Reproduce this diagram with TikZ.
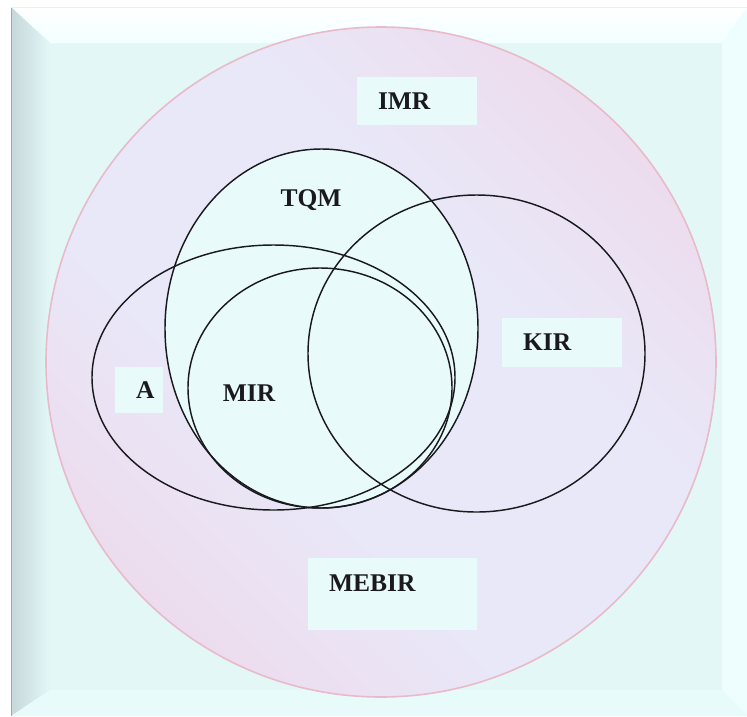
\documentclass[tikz,border=0pt]{standalone}
\usepackage{fontspec}
\setmainfont{Liberation Serif}
\definecolor{facecol}{RGB}{227,247,247}
\definecolor{boxcol}{RGB}{233,250,250}
\definecolor{lavcol}{RGB}{233,232,248}
\definecolor{pinkcol}{RGB}{239,211,230}
\definecolor{rimcol}{RGB}{232,186,202}
\definecolor{inkcol}{RGB}{26,26,30}
\definecolor{bevtop}{RGB}{242,255,255}
\definecolor{bevleft}{RGB}{198,216,218}
\definecolor{bevright}{RGB}{238,254,254}
\definecolor{bevbottom}{RGB}{232,251,251}
\definecolor{edgegray}{RGB}{160,170,172}
\definecolor{edgelight}{RGB}{236,240,240}
\pgfdeclareverticalshading{discshade}{100bp}{%
  color(0bp)=(pinkcol); color(14bp)=(pinkcol); color(40bp)=(lavcol);
  color(60bp)=(lavcol); color(86bp)=(pinkcol); color(100bp)=(pinkcol)}
\tikzset{
  setline/.style={draw=inkcol, line width=1.45pt},
  boxlabel/.style={fill=boxcol, align=left, inner xsep=21pt, inner ysep=0pt,
    font=\fontsize{25.5}{28}\selectfont\bfseries, text=inkcol},
  freelabel/.style={inner sep=0pt, font=\fontsize{25.5}{28}\selectfont\bfseries, text=inkcol}
}
\begin{document}
\begin{tikzpicture}[x=1pt,y=-1pt]
\useasboundingbox (0,0) rectangle (747,716);
\fill[white] (0,0) rectangle (747,716);
% bevelled panel
\fill[facecol] (11,7) rectangle (747,716);
\shade[top color=white, bottom color=bevtop]
  (11,7) -- (747,7) -- (722,43) -- (50,43) -- cycle;
\shade[left color=bevleft, right color=facecol]
  (11,7) -- (50,43) -- (50,690) -- (11,716) -- cycle;
\fill[bevright] (747,7) -- (722,43) -- (722,690) -- (747,716) -- cycle;
\fill[bevbottom] (11,716) -- (50,690) -- (722,690) -- (747,716) -- cycle;
\draw[edgegray, line width=1pt] (11.5,7) -- (11.5,716);
\draw[edgelight, line width=0.8pt] (11,7) -- (747,7);
% outer disc
\shade[shading=discshade, shading angle=-45] (381,362) circle[radius=335];
\draw[rimcol, line width=1.6pt] (381,362) circle[radius=335];
% sets
\fill[boxcol] (321.5,328.5) ellipse[x radius=156.5, y radius=179.5];
\draw[setline] (321.5,328.5) ellipse[x radius=156.5, y radius=179.5];
\draw[setline] (273.5,377.5) ellipse[x radius=181.5, y radius=132.5];
\draw[setline] (320,388) ellipse[x radius=132, y radius=120];
\draw[setline] (476.5,353.5) ellipse[x radius=168.5, y radius=158.5];
% labels
\node[boxlabel, text width=78pt, minimum height=48pt] (imr) at (417,101) {IMR};
\node[boxlabel, text width=78pt, minimum height=49pt] (kir) at (562,342.5) {KIR};
\node[boxlabel, text width=6pt, minimum height=46pt] (a) at (139,390) {A};
\node[boxlabel, text width=127pt, minimum height=72pt, text depth=21pt] (mebir) at (392.5,594) {MEBIR};
\node[freelabel] (tqm) at (311,200) {TQM};
\node[freelabel] (mir) at (249,393) {MIR};
\end{tikzpicture}
\end{document}
